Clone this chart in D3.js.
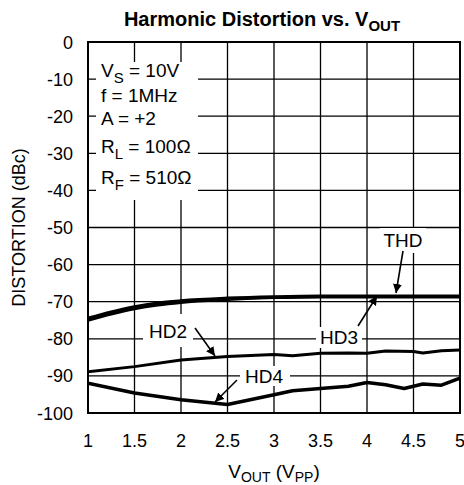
<!DOCTYPE html>
<html>
<head>
<meta charset="utf-8">
<script src="https://cdn.jsdelivr.net/npm/d3@7"></script>
<style>
  body { margin: 0; background: #fff; }
  svg { display: block; font-family: "Liberation Sans", Arial, sans-serif; }
</style>
</head>
<body>
<script>
// values
const xTicks = [1, 1.5, 2, 2.5, 3, 3.5, 4, 4.5, 5];
const yTicks = [0, -10, -20, -30, -40, -50, -60, -70, -80, -90, -100];

const thdX = [1, 1.25, 1.5, 1.75, 2, 2.5, 3, 3.5, 4, 4.5, 5];
const thdY = [-74.5, -72.8, -71.4, -70.4, -69.8, -69.1, -68.7, -68.5, -68.5, -68.5, -68.5];
const hd3Y = [-75.0, -73.3, -71.9, -70.9, -70.2, -69.4, -68.9, -68.7, -68.7, -68.7, -68.7];

const hd2X = [1, 1.5, 2, 2.5, 3, 3.2, 3.5, 3.8, 4, 4.2, 4.5, 4.6, 4.8, 5];
const hd2Y = [-88.9, -87.5, -85.7, -84.8, -84.2, -84.6, -83.9, -83.8, -83.9, -83.3, -83.4, -83.8, -83.2, -83.0];

const hd4X = [1, 1.5, 2, 2.5, 3, 3.2, 3.5, 3.8, 4, 4.2, 4.4, 4.6, 4.8, 5];
const hd4Y = [-92.0, -94.6, -96.4, -97.7, -95.1, -94.0, -93.4, -92.8, -91.8, -92.4, -93.4, -92.2, -92.5, -90.6];

const conditions = [
    ["V", "S", " = 10V"],
    ["f = 1MHz", "", ""],
    ["A = +2", "", ""],
    ["R", "L", " = 100\u03A9"],
    ["R", "F", " = 510\u03A9"]
];

const width = 464, height = 485;
const margin = {top: 42, right: 4, bottom: 72, left: 88};
const pw = width - margin.left - margin.right;
const ph = height - margin.top - margin.bottom;

const svg = d3.select("body").append("svg")
    .attr("width", width)
    .attr("height", height);

const x = d3.scaleLinear().domain([1, 5]).range([margin.left, margin.left + pw]);
const y = d3.scaleLinear().domain([-100, 0]).range([margin.top + ph, margin.top]);

svg.append("defs").append("clipPath").attr("id", "plot")
    .append("rect")
    .attr("x", margin.left).attr("y", margin.top)
    .attr("width", pw).attr("height", ph);

svg.append("defs").append("marker")
    .attr("id", "head")
    .attr("viewBox", "0 0 10 10")
    .attr("refX", 10).attr("refY", 5)
    .attr("markerWidth", 9).attr("markerHeight", 9)
    .attr("markerUnits", "userSpaceOnUse")
    .attr("orient", "auto")
    .append("path")
    .attr("d", "M0,0 L10,5 L0,10 Z")
    .attr("fill", "#000");

// grid
const grid = svg.append("g").attr("stroke", "#000").attr("stroke-width", 1.3);
grid.selectAll(".vg").data(xTicks).enter().append("line")
    .attr("x1", d => x(d)).attr("x2", d => x(d))
    .attr("y1", margin.top).attr("y2", margin.top + ph);
grid.selectAll(".hg").data(yTicks).enter().append("line")
    .attr("x1", margin.left).attr("x2", margin.left + pw)
    .attr("y1", d => y(d)).attr("y2", d => y(d));

// white boxes behind labels break the grid
const boxes = [
    [96, 62, 102, 138],
    [380, 228, 46, 25],
    [316, 327, 46, 21],
    [143, 314, 50, 33],
    [240, 366, 50, 20]
];
svg.append("g").selectAll("rect").data(boxes).enter().append("rect")
    .attr("x", d => d[0]).attr("y", d => d[1])
    .attr("width", d => d[2]).attr("height", d => d[3])
    .attr("fill", "#fff");

// frame
svg.append("rect")
    .attr("x", margin.left).attr("y", margin.top)
    .attr("width", pw).attr("height", ph)
    .attr("fill", "none").attr("stroke", "#000").attr("stroke-width", 2);

// curves
const series = [
    {xs: thdX, ys: thdY, w: 3.5, c: d3.curveMonotoneX},
    {xs: thdX, ys: hd3Y, w: 3, c: d3.curveMonotoneX},
    {xs: hd2X, ys: hd2Y, w: 3, c: d3.curveLinear},
    {xs: hd4X, ys: hd4Y, w: 3.5, c: d3.curveLinear}
];
const curves = svg.append("g").attr("clip-path", "url(#plot)");
series.forEach(s => {
    const line = d3.line().curve(s.c).x(d => x(d[0])).y(d => y(d[1]));
    curves.append("path")
        .datum(s.xs.map((v, i) => [v, s.ys[i]]))
        .attr("d", line)
        .attr("fill", "none")
        .attr("stroke", "#000")
        .attr("stroke-width", s.w)
        .attr("stroke-linejoin", "round");
});

// curve labels and arrows
const labels = [
    {t: "THD", lx: 403, ly: 247, ax: [403, 251, 396, 293]},
    {t: "HD3", lx: 339, ly: 344, ax: [358, 326, 377, 296]},
    {t: "HD2", lx: 168, ly: 338, ax: [195, 328, 215, 356]},
    {t: "HD4", lx: 264, ly: 383, ax: [237, 380, 215, 402]}
];
svg.append("g").selectAll("line").data(labels).enter().append("line")
    .attr("x1", d => d.ax[0]).attr("y1", d => d.ax[1])
    .attr("x2", d => d.ax[2]).attr("y2", d => d.ax[3])
    .attr("stroke", "#000").attr("stroke-width", 1.6)
    .attr("marker-end", "url(#head)");
svg.append("g").selectAll("text").data(labels).enter().append("text")
    .attr("x", d => d.lx).attr("y", d => d.ly)
    .attr("text-anchor", "middle")
    .attr("font-size", 19)
    .text(d => d.t);

// conditions box text
const condY = [77, 102, 125, 153, 184];
const cond = svg.append("g").attr("font-size", 19);
conditions.forEach((c, i) => {
    const t = cond.append("text").attr("x", 101).attr("y", condY[i]);
    t.append("tspan").text(c[0]);
    if (c[1]) {
        t.append("tspan").attr("font-size", 15).attr("dy", 6).text(c[1]);
        t.append("tspan").attr("dy", -6).text(c[2]);
    }
});

// tick labels
svg.append("g").selectAll("text").data(xTicks).enter().append("text")
    .attr("x", d => x(d)).attr("y", 447)
    .attr("text-anchor", "middle")
    .attr("font-size", 18)
    .text(d => d);
svg.append("g").selectAll("text").data(yTicks).enter().append("text")
    .attr("x", 73).attr("y", d => y(d) + 6.5)
    .attr("text-anchor", "end")
    .attr("font-size", 18)
    .text(d => d);

// axis titles
const xt = svg.append("text")
    .attr("x", x(3)).attr("y", 478)
    .attr("text-anchor", "middle")
    .attr("font-size", 19);
xt.append("tspan").text("V");
xt.append("tspan").attr("font-size", 14).attr("dy", 4).text("OUT");
xt.append("tspan").attr("dy", -4).text(" (V");
xt.append("tspan").attr("font-size", 14).attr("dy", 4).text("PP");
xt.append("tspan").attr("dy", -4).text(")");

svg.append("text")
    .attr("transform", `translate(25, ${margin.top + ph / 2}) rotate(-90)`)
    .attr("text-anchor", "middle")
    .attr("font-size", 18)
    .text("DISTORTION (dBc)");

const title = svg.append("text")
    .attr("x", 262).attr("y", 26)
    .attr("text-anchor", "middle")
    .attr("font-size", 20)
    .attr("font-weight", "bold");
title.append("tspan").text("Harmonic Distortion vs. V");
title.append("tspan").attr("font-size", 15).attr("dy", 5).text("OUT");
</script>
</body>
</html>
